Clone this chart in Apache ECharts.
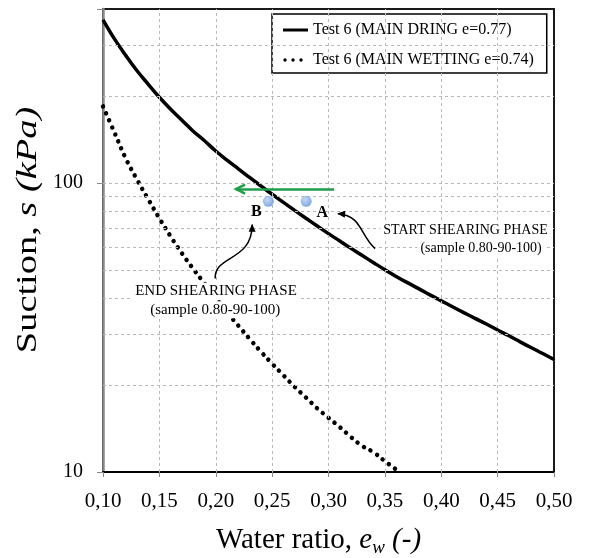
<!DOCTYPE html>
<html><head><meta charset="utf-8">
<script src="https://cdn.jsdelivr.net/npm/echarts@6/dist/echarts.min.js"></script>
<style>html,body{margin:0;padding:0;background:#fff}#c{width:589px;height:558px}</style>
</head><body><div id="c"></div>
<script>
// ---------- data ----------
const dryingRatio = [0.10,0.11,0.12,0.13,0.14,0.15,0.16,0.17,0.18,0.19,0.20,0.21,0.22,0.23,0.24,0.25,0.26,0.27,0.28,0.29,0.30,0.31,0.32,0.33,0.34,0.35,0.36,0.37,0.38,0.39,0.40,0.41,0.42,0.43,0.44,0.45,0.46,0.47,0.48,0.49,0.50];
const dryingSuction = [367,316,277,245,220,198,180,165,151,140,129,120,112,104.5,97.7,91.4,85.7,80.4,75.5,71.0,66.8,63.0,59.4,56.1,53.0,50.1,47.5,45.2,43.1,41.0,39.1,37.3,35.6,34.0,32.5,31.0,29.6,28.2,26.9,25.7,24.5];
const wettingRatio = [0.10,0.11,0.12,0.13,0.14,0.15,0.16,0.17,0.18,0.19,0.20,0.21,0.22,0.23,0.24,0.25,0.26,0.27,0.28,0.29,0.30,0.31,0.32,0.33,0.34,0.35,0.36];
const wettingSuction = [184,150,122,103,88,75.5,65.3,57.1,50.5,44.9,40.0,35.7,32.1,28.9,26.1,23.7,21.6,19.7,18.1,16.6,15.4,14.3,13.2,12.3,11.7,10.9,10.2];
const shearLabels = ['B','A'];
const shearRatio = [0.2467,0.2802];
const shearSuction = [86.4,86.4];
const greenArrowRatio = [0.305,0.218];
const greenArrowSuction = [95.3,95.3];
const gridSuction = [20,30,40,50,60,70,80,90,100,200,300];
const gridRatio = [0.15,0.20,0.25,0.30,0.35,0.40,0.45];
const majorTickSuction = [10,100];
const seriesNames = ['Test 6 (MAIN DRING e=0.77)','Test 6 (MAIN WETTING e=0.74)'];
const xTickLabels = ['0,10','0,15','0,20','0,25','0,30','0,35','0,40','0,45','0,50'];

// ---------- annotation anchors (data coords) ----------
const annotations = {
  startText1: [0.4215,68.4], startText2: [0.4353,59.3],
  endText1: [0.2002,42.2], endText2: [0.1995,36.4],
  labelA: [0.2944,78.9], labelB: [0.2359,79.6],
  arrowA: [[0.3413,59.3],[0.328,65.7],[0.3298,77.1],[0.3085,78.3]],
  arrowB: [[0.1995,46.7],[0.1986,56.5],[0.2323,53.4],[0.2323,71.7]]
};

const FONT = "'Liberation Serif','Times New Roman',serif";
const chart = echarts.init(document.getElementById('c'));
const grid = '#b8b8b8';
const solidIcon = 'path://M0,0L0.01,0Z M0,5.5L25,5.5L25,8.5L0,8.5Z M24.99,14L25,14Z';
const dotIcon = 'path://M0,0L0.01,0Z M24.99,14L25,14Z ' +
  'M0.3,7A1.7,1.7 0 1 1 3.7,7A1.7,1.7 0 1 1 0.3,7Z ' +
  'M8.3,7A1.7,1.7 0 1 1 11.7,7A1.7,1.7 0 1 1 8.3,7Z ' +
  'M16.3,7A1.7,1.7 0 1 1 19.7,7A1.7,1.7 0 1 1 16.3,7Z';

const option = {
  animation:false,
  backgroundColor:'#fff',
  grid:{left:103,right:35,top:9,bottom:86,show:true,borderColor:'#1a1a1a',borderWidth:2,backgroundColor:'transparent',
        containLabel:false,outerBoundsMode:'none'},
  legend:{
    orient:'vertical',left:272,top:14,padding:[7,13,4,11],itemGap:12,itemWidth:25,itemHeight:14,
    backgroundColor:'#fff',borderColor:'#000',borderWidth:1.5,selectedMode:false,
    textStyle:{fontFamily:FONT,fontSize:16,color:'#000',lineHeight:18},
    data:[{name:seriesNames[0],icon:solidIcon,itemStyle:{color:'#000'}},{name:seriesNames[1],icon:dotIcon,itemStyle:{color:'#000'}}]
  },
  xAxis:{
    type:'value',min:0.1,max:0.5,interval:0.05,
    axisLine:{show:true,onZero:false,lineStyle:{color:'#000',width:2}},
    axisTick:{show:true,length:5,lineStyle:{color:'#888'}},
    axisLabel:{formatter:v=>xTickLabels[Math.round((v-0.1)/0.05)],fontFamily:FONT,fontSize:21,color:'#000',margin:19},
    splitLine:{show:false},
    name:'Water ratio, {i|e}{s|w}{i| (-)}',nameLocation:'middle',nameGap:52,
    nameTextStyle:{fontFamily:FONT,fontSize:29,color:'#000',padding:[0,20,0,0],
      rich:{i:{fontFamily:FONT,fontSize:29,fontStyle:'italic',color:'#000'},
            s:{fontFamily:FONT,fontSize:19,fontStyle:'italic',color:'#000',padding:[14,0,0,0]}}}
  },
  yAxis:{
    type:'log',logBase:10,min:10,max:400,
    axisLine:{show:true,lineStyle:{color:'#888',width:2.5}},
    axisTick:{show:true,length:6,lineStyle:{color:'#888'}},
    axisLabel:{fontFamily:FONT,fontSize:20,color:'#000',margin:20,
      formatter:v=>majorTickSuction.indexOf(Math.round(v))>=0?String(Math.round(v)):''},
    splitLine:{show:false}
  },
  series:[
    {type:'line',name:'grid',data:[],z:1,silent:true,
     markLine:{silent:true,symbol:['none','none'],label:{show:false},
       lineStyle:{color:grid,type:[3,3],width:1},
       data:gridSuction.map(v=>({yAxis:v})).concat(gridRatio.map(v=>({xAxis:v})))}},
    {type:'line',name:seriesNames[0],z:3,symbol:'none',smooth:0.4,
     lineStyle:{color:'#000',width:3.5},itemStyle:{color:'#000'},
     data:dryingRatio.map((x,i)=>[x,dryingSuction[i]])},
    {type:'line',name:seriesNames[1],z:3,symbol:'none',smooth:0.4,
     lineStyle:{color:'#000',width:4.5,type:[0.01,7.6],cap:'round'},itemStyle:{color:'#000'},
     data:wettingRatio.map((x,i)=>[x,wettingSuction[i]])},
    {type:'scatter',name:'points',z:5,symbolSize:11,
     itemStyle:{color:{type:'radial',x:0.4,y:0.35,r:0.7,colorStops:[{offset:0,color:'#b3cff5'},{offset:1,color:'#5a8edb'}]}},
     data:shearRatio.map((x,i)=>[x,shearSuction[i]]),
     markLine:{silent:true,symbol:['none','none'],label:{show:false},
       lineStyle:{color:'#1f9e4a',width:2.5,type:'solid'},
       data:[[{coord:[greenArrowRatio[0],greenArrowSuction[0]]},{coord:[greenArrowRatio[1],greenArrowSuction[1]]}]]}}
  ]
};
chart.setOption(option);

function P(c){return chart.convertToPixel({gridIndex:0},c);}
function txt(c,text,size,bold,bg){
  const p=P(c);
  const st={text:text,fontFamily:FONT,fontSize:size,fontWeight:bold?'bold':'normal',fill:'#000',align:'center',verticalAlign:'middle'};
  if(bg){st.backgroundColor='#fff';st.padding=[1,3];}
  return {type:'text',x:p[0],y:p[1],z:10,style:st};
}
function curveArrow(pts){
  const q=pts.map(P);
  const [p0,c1,c2,p3]=q;
  let dx=p3[0]-c2[0],dy=p3[1]-c2[1];const L=Math.hypot(dx,dy);dx/=L;dy/=L;
  const hl=7,hw=3.5;
  const bx=p3[0]-dx*hl,by=p3[1]-dy*hl;
  return [
    {type:'bezierCurve',z:11,shape:{x1:p0[0],y1:p0[1],cpx1:c1[0],cpy1:c1[1],cpx2:c2[0],cpy2:c2[1],x2:p3[0],y2:p3[1]},style:{stroke:'#000',lineWidth:1.5,fill:null}},
    {type:'polygon',z:11,shape:{points:[[p3[0]+dx*1,p3[1]+dy*1],[bx-dy*hw,by+dx*hw],[bx+dy*hw,by-dx*hw]]},style:{fill:'#000'}}
  ];
}
const gEnd=P([greenArrowRatio[1],greenArrowSuction[1]]);
const graphics=[
  {type:'text',x:28,y:230,rotation:Math.PI/2,scaleX:1.28,z:10,
   style:{text:'Suction, {i|s (kPa)}',fontFamily:FONT,fontSize:30,fill:'#000',align:'center',verticalAlign:'middle',
     rich:{i:{fontFamily:FONT,fontSize:30,fontStyle:'italic',fill:'#000'}}}},
  txt(annotations.startText1,'START SHEARING PHASE',14,false,true),
  txt(annotations.startText2,'(sample 0.80-90-100)',14,false,true),
  txt(annotations.endText1,'END SHEARING PHASE',15,false,true),
  txt(annotations.endText2,'(sample 0.80-90-100)',15,false,true),
  txt(annotations.labelA,shearLabels[1],16,true),
  txt(annotations.labelB,shearLabels[0],16,true),
  ...curveArrow(annotations.arrowA),
  ...curveArrow(annotations.arrowB),
  {type:'polyline',z:10,shape:{points:[[gEnd[0]+9,gEnd[1]-4.5],[gEnd[0],gEnd[1]],[gEnd[0]+9,gEnd[1]+4.5]]},style:{stroke:'#1f9e4a',lineWidth:2.5,fill:null}}
];
chart.setOption({graphic:graphics});
</script>
</body></html>
